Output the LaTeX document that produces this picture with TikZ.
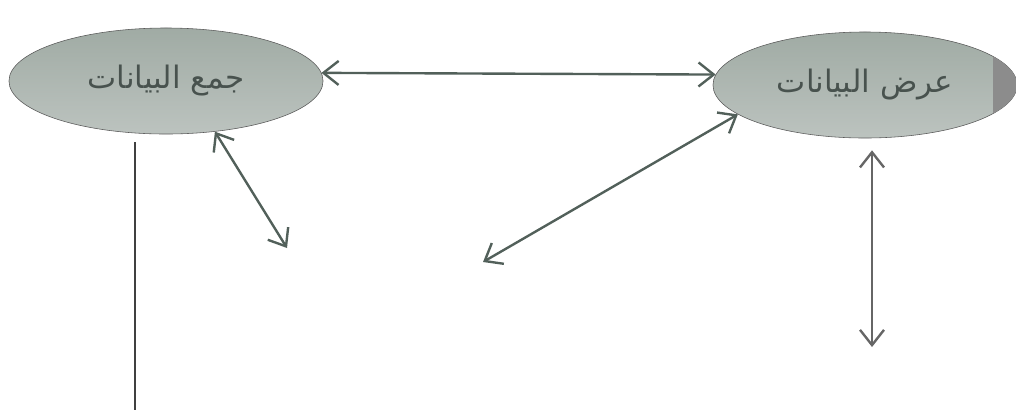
\documentclass[tikz,border=0pt]{standalone}
\usepackage{fontspec}
\usepackage{tikz}
\usetikzlibrary{arrows.meta,positioning,shapes.geometric}
\TeXXeTstate=1
\newfontfamily\arabicfont[Script=Arabic]{DejaVu Sans}
\definecolor{linegrey}{RGB}{82,96,90}
\definecolor{stagetop}{RGB}{160,171,164}
\definecolor{stagebot}{RGB}{188,195,191}
\definecolor{textgrey}{RGB}{72,82,78}

\begin{document}
\begin{tikzpicture}[
    x=0.025cm, y=-0.025cm,
    stage/.style={ellipse, draw=black!65, minimum height=2.65cm, inner sep=0pt, top color=stagetop, bottom color=stagebot, text=textgrey, font=\arabicfont\fontsize{22}{26}\selectfont},
    arrow/.style={{Straight Barb[length=3.8mm,width=6mm]}-{Straight Barb[length=3.8mm,width=6mm]}, line width=1.7pt, draw=linegrey},
    plain/.style={line width=1pt, draw=black!75}
]
    \useasboundingbox (0,0) rectangle (1016,410);

    \node[stage, minimum width=7.85cm] (collect) at (166,81) {\beginR جمع البيانات\endR};
    \node[stage, minimum width=7.6cm] (show) at (865,85) {\beginR عرض البيانات\endR};
    % dark band on the right of the second ellipse
    \begin{scope}
        \clip (865,85) ellipse [x radius=152, y radius=53];
        \fill[black!45] (993,20) rectangle (1020,150);
    \end{scope}

    \coordinate (low1) at (287,248);
    \coordinate (low2) at (483,262);
    \coordinate (down) at (872,347);
    \coordinate (foot) at (135,410);

    \draw[arrow] (collect.3) -- (show.176);
    \draw[arrow] (collect.-46) -- (low1);
    \draw[arrow] (low2) -- (show.193);
    \draw[arrow, draw=black!60, shorten <=0.3cm] (show.south -| down) -- (down);
    \draw[plain, shorten <=0.2cm] (collect.south -| foot) -- (foot);
\end{tikzpicture}
\end{document}
